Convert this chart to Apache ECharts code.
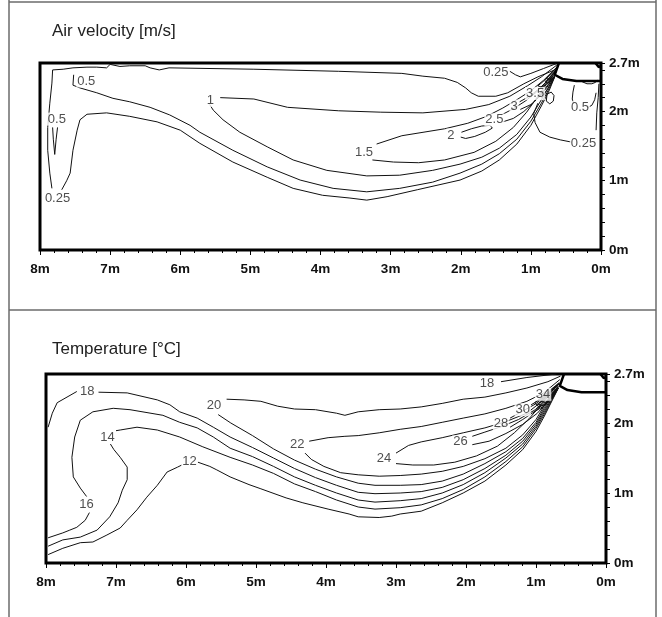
<!DOCTYPE html>
<html><head><meta charset="utf-8">
<script src="https://cdn.jsdelivr.net/npm/echarts@6/dist/echarts.min.js"></script>
<style>html,body{margin:0;padding:0;background:#fff;}#c{width:662px;height:617px;}</style>
</head><body><div id="c"></div>
<script>
// ---------- axis data ----------
const xTickMin = 0, xTickMax = 8;
const yMin = 0, yMax = 2.7;
const yLabelTicks = [0, 1, 2, 2.7];
const yAllTicks = [0, 0.2, 0.4, 0.6, 0.8, 1, 1.2, 1.4, 1.6, 1.8, 2, 2.2, 2.4, 2.6, 2.7];

// ---------- inlet geometry (m) ----------
const inletShape = [[0.6,2.7],[0.66,2.53],[0.55,2.47],[0.35,2.44],[0,2.44]];
const cornerMark = [[0.08,2.7],[0.03,2.64],[0.0,2.66]];

// ---------- air velocity contours [x m, y m] ----------
const vel025Upper = [[0.66,2.6],[0.9,2.5],[1.1,2.4],[1.33,2.27],[1.5,2.22],[1.75,2.22],[1.85,2.27],[1.93,2.34],[2.05,2.42],[2.23,2.48],[2.54,2.51],[2.84,2.55],[3.74,2.58],[4.95,2.61],[6.16,2.63],[6.3,2.6],[6.43,2.63],[6.5,2.66],[6.72,2.66],[6.86,2.65],[7.0,2.68],[7.05,2.63],[7.19,2.64],[7.33,2.64],[7.53,2.63],[7.67,2.61],[7.82,2.6],[7.83,2.41],[7.86,2.12],[7.89,1.77],[7.89,1.44],[7.86,1.11],[7.83,0.89]];
const vel025Lower = [[7.69,0.87],[7.62,1.0],[7.57,1.11],[7.53,1.44],[7.47,1.73],[7.43,1.88],[7.33,1.96],[7.05,1.98],[6.72,1.93],[6.33,1.85],[6.0,1.73],[5.72,1.54],[5.25,1.27],[4.76,1.05],[4.39,0.89],[3.97,0.79],[3.58,0.75],[3.34,0.72],[3.05,0.77],[2.62,0.87],[2.01,1.01],[1.7,1.14],[1.45,1.3],[1.2,1.53],[1.0,1.8],[0.85,2.08],[0.74,2.3],[0.66,2.5]];
const vel05Lower = [[7.52,2.53],[7.53,2.38],[7.43,2.34],[7.19,2.27],[6.96,2.19],[6.72,2.14],[6.43,2.06],[6.15,1.95],[5.86,1.8],[5.72,1.7],[5.25,1.44],[4.76,1.2],[4.29,1.01],[3.82,0.89],[3.34,0.84],[2.87,0.89],[2.4,0.98],[2.01,1.11],[1.7,1.24],[1.45,1.39],[1.2,1.6],[1.0,1.86],[0.85,2.12],[0.74,2.33],[0.66,2.5]];
const vel05Loop = [[7.82,1.77],[7.81,1.6],[7.79,1.38],[7.77,1.6],[7.75,1.77]];
const vel1Upper = [[5.43,2.2],[4.95,2.18],[4.47,2.06],[3.74,2.01],[3.14,1.99],[2.54,1.98],[1.93,2.03],[1.6,2.1],[1.3,2.22],[1.05,2.37],[0.85,2.5],[0.63,2.67]];
const vel1Lower = [[5.58,2.1],[5.53,2.02],[5.39,1.88],[5.15,1.7],[4.76,1.49],[4.39,1.3],[3.91,1.15],[3.34,1.07],[2.87,1.08],[2.4,1.15],[2.01,1.24],[1.7,1.34],[1.45,1.47],[1.2,1.67],[1.0,1.92],[0.85,2.17],[0.74,2.36],[0.66,2.51]];
const vel15Upper = [[3.2,1.53],[2.84,1.65],[2.23,1.75],[1.9,1.83],[1.63,1.93],[1.4,2.05],[1.2,2.17],[1.0,2.3],[0.82,2.45],[0.63,2.64]];
const vel15Lower = [[3.26,1.3],[2.96,1.27],[2.6,1.26],[2.23,1.3],[1.81,1.41],[1.5,1.57],[1.25,1.77],[1.06,1.99],[0.9,2.22],[0.78,2.39],[0.67,2.52]];
const vel2Loop = [[1.99,1.7],[1.85,1.75],[1.7,1.79],[1.58,1.8],[1.55,1.76],[1.65,1.7],[1.8,1.64],[1.93,1.61],[2.0,1.63]];
const vel25Upper = [[1.42,1.95],[1.25,2.04],[1.08,2.15],[0.92,2.28],[0.78,2.43],[0.64,2.6]];
const vel25Lower = [[1.4,1.85],[1.25,1.9],[1.1,2.0],[0.95,2.14],[0.82,2.3],[0.68,2.49]];
const vel3Upper = [[1.16,2.14],[1.02,2.22],[0.88,2.33],[0.76,2.45],[0.64,2.59]];
const vel3Lower = [[1.15,2.03],[1.0,2.1],[0.87,2.22],[0.77,2.35],[0.68,2.49]];
const vel35Upper = [[0.86,2.33],[0.75,2.44],[0.64,2.57]];
const vel35Lower = [[0.85,2.2],[0.76,2.33],[0.68,2.48]];
const vel4Loop = [[0.64,2.6],[0.74,2.51],[0.84,2.42],[0.9,2.37],[0.84,2.35],[0.76,2.41],[0.67,2.5]];
const vel45Loop = [[0.64,2.58],[0.72,2.5],[0.8,2.43],[0.76,2.41],[0.7,2.46],[0.66,2.51]];
const vel5Loop = [[0.64,2.62],[0.7,2.56],[0.78,2.48],[0.74,2.46],[0.68,2.52]];
const velIsland = [[0.78,2.15],[0.73,2.11],[0.68,2.15],[0.67,2.23],[0.71,2.28],[0.77,2.25],[0.78,2.15]];
const velRight025 = [[0.9,2.12],[0.96,1.97],[0.94,1.84],[0.87,1.7],[0.73,1.63],[0.58,1.59],[0.43,1.56]];
const velRight05a = [[0.38,2.38],[0.4,2.28],[0.41,2.18],[0.39,2.11]];
const velRight05b = [[0.2,2.05],[0.13,2.09],[0.09,2.17],[0.07,2.27]];
const velWall = [[0.03,2.4],[0.04,2.2],[0.06,1.98],[0.07,1.73]];
const velArc = [[0.27,2.43],[0.2,2.4],[0.13,2.4],[0.08,2.42],[0.05,2.45]];
const velTop025 = [[1.3,2.58],[1.22,2.53],[1.15,2.5],[1.0,2.55],[0.82,2.62],[0.64,2.69]];
const velLabels = [[7.34,2.44,'0.5'],[7.76,1.89,'0.5'],[7.75,0.74,'0.25'],[5.57,2.16,'1'],[3.38,1.41,'1.5'],[2.14,1.66,'2'],[1.52,1.88,'2.5'],[1.24,2.08,'3'],[0.94,2.26,'3.5'],[1.5,2.56,'0.25'],[0.3,2.06,'0.5'],[0.25,1.54,'0.25']];

// ---------- temperature contours [x m, y m] ----------
const t12Left = [[7.97,0.12],[7.76,0.21],[7.51,0.29],[7.33,0.3],[7.13,0.4],[6.94,0.5],[6.84,0.61],[6.7,0.76],[6.56,0.94],[6.41,1.11],[6.27,1.3],[6.12,1.37],[6.06,1.4]];
const t12Right = [[5.83,1.44],[5.66,1.38],[5.56,1.33],[5.37,1.23],[5.1,1.12],[4.93,1.06],[4.57,0.93],[4.33,0.86],[3.97,0.77],[3.67,0.7],[3.54,0.66],[3.24,0.65],[3.06,0.67],[2.94,0.7],[2.64,0.74],[2.34,0.86],[2.04,1.0],[1.73,1.17],[1.43,1.4],[1.19,1.62],[1.0,1.88],[0.88,2.1],[0.78,2.3],[0.68,2.5]];
const t14Left = [[7.97,0.24],[7.76,0.33],[7.51,0.37],[7.27,0.47],[7.09,0.66],[6.97,0.86],[6.91,1.04],[6.84,1.19],[6.84,1.37],[6.94,1.51],[7.03,1.62],[7.08,1.7]];
const t14Right = [[7.0,1.89],[6.94,1.9],[6.7,1.94],[6.41,1.9],[6.09,1.8],[5.76,1.66],[5.37,1.51],[5.05,1.4],[4.75,1.28],[4.45,1.13],[4.15,1.02],[3.85,0.9],[3.54,0.8],[3.3,0.77],[2.94,0.79],[2.64,0.83],[2.34,0.92],[2.04,1.05],[1.73,1.23],[1.43,1.45],[1.19,1.66],[1.0,1.92],[0.88,2.13],[0.78,2.32],[0.68,2.5]];
const t16Left = [[7.97,0.36],[7.76,0.43],[7.66,0.47],[7.56,0.51],[7.44,0.61],[7.38,0.72]];
const t16Right = [[7.42,0.95],[7.51,1.07],[7.61,1.23],[7.63,1.51],[7.59,1.8],[7.51,2.04],[7.33,2.16],[7.04,2.21],[6.8,2.19],[6.33,2.11],[6.09,2.01],[5.84,1.93],[5.61,1.8],[5.37,1.64],[5.05,1.52],[4.75,1.38],[4.45,1.23],[4.15,1.11],[3.85,1.0],[3.54,0.9],[3.3,0.87],[2.94,0.89],[2.64,0.92],[2.34,1.0],[2.04,1.12],[1.73,1.29],[1.43,1.5],[1.19,1.7],[1.0,1.95],[0.88,2.16],[0.78,2.34],[0.68,2.5]];
const t18Left = [[7.56,2.45],[7.7,2.37],[7.84,2.29],[7.91,2.14],[7.97,1.94]];
const t18Right = [[7.25,2.44],[6.84,2.43],[6.41,2.33],[6.23,2.26],[6.09,2.16],[5.84,2.07],[5.61,1.94],[5.37,1.8],[5.05,1.65],[4.75,1.5],[4.45,1.35],[4.15,1.22],[3.85,1.11],[3.54,1.01],[3.3,0.99],[2.94,1.0],[2.64,1.02],[2.34,1.08],[2.04,1.19],[1.73,1.35],[1.43,1.54],[1.19,1.74],[1.0,1.98],[0.88,2.19],[0.78,2.36],[0.68,2.5]];
const t18Top = [[1.5,2.59],[1.13,2.65],[0.71,2.7]];
const t20Upper = [[5.42,2.34],[5.17,2.33],[4.93,2.31],[4.69,2.24],[4.45,2.2],[4.15,2.19],[3.85,2.14],[3.73,2.11],[3.54,2.16],[3.24,2.19],[2.94,2.2],[2.64,2.23],[2.34,2.28],[2.04,2.34],[1.73,2.37],[1.43,2.43],[1.13,2.5],[0.83,2.59],[0.65,2.67]];
const t20Lower = [[5.54,2.12],[5.36,2.0],[5.05,1.82],[4.75,1.63],[4.45,1.47],[4.15,1.34],[3.85,1.23],[3.54,1.14],[3.3,1.11],[2.94,1.11],[2.64,1.12],[2.34,1.17],[2.04,1.27],[1.73,1.42],[1.43,1.59],[1.19,1.78],[1.0,2.01],[0.88,2.22],[0.78,2.38],[0.68,2.51]];
const t22Upper = [[4.24,1.74],[3.97,1.79],[3.73,1.81],[3.54,1.82],[3.24,1.86],[2.94,1.91],[2.64,1.95],[2.34,2.01],[2.04,2.07],[1.73,2.13],[1.43,2.21],[1.13,2.31],[0.89,2.43],[0.66,2.62]];
const t22Lower = [[4.3,1.57],[4.21,1.48],[4.03,1.38],[3.79,1.29],[3.54,1.26],[3.24,1.24],[2.94,1.25],[2.64,1.27],[2.34,1.31],[2.04,1.38],[1.73,1.49],[1.43,1.64],[1.19,1.83],[1.0,2.05],[0.88,2.25],[0.78,2.4],[0.68,2.52]];
const t24Upper = [[3.0,1.57],[2.82,1.68],[2.64,1.73],[2.34,1.79],[2.04,1.86],[1.73,1.93],[1.43,2.02],[1.13,2.14],[0.89,2.33],[0.67,2.58]];
const t24Lower = [[3.0,1.42],[2.76,1.4],[2.46,1.4],[2.16,1.44],[1.85,1.53],[1.55,1.67],[1.31,1.86],[1.1,2.06],[0.92,2.27],[0.78,2.42],[0.68,2.53]];
const t26Upper = [[1.91,1.81],[1.73,1.87],[1.49,1.95],[1.25,2.05],[1.01,2.19],[0.83,2.38],[0.67,2.57]];
const t26Lower = [[1.91,1.69],[1.67,1.74],[1.43,1.85],[1.19,1.98],[0.98,2.14],[0.83,2.31],[0.69,2.52]];
const t28Upper = [[1.37,2.07],[1.19,2.17],[1.01,2.27],[0.83,2.41],[0.67,2.57]];
const t28Lower = [[1.37,1.94],[1.19,2.05],[1.01,2.17],[0.86,2.3],[0.7,2.5]];
const t30Upper = [[1.07,2.26],[0.95,2.33],[0.79,2.45],[0.67,2.56]];
const t30Lower = [[1.04,2.15],[0.89,2.24],[0.78,2.36],[0.7,2.49]];
const t31Loop = [[0.67,2.57],[0.8,2.46],[0.94,2.35],[1.02,2.29],[0.96,2.23],[0.86,2.27],[0.76,2.37],[0.69,2.49]];
const t32Loop = [[0.67,2.56],[0.78,2.45],[0.9,2.33],[0.98,2.27],[0.9,2.25],[0.8,2.33],[0.7,2.49]];
const t33Loop = [[0.67,2.56],[0.76,2.48],[0.86,2.38],[0.93,2.31],[0.86,2.29],[0.78,2.37],[0.7,2.49]];
const t34Upper = [[0.8,2.47],[0.67,2.57]];
const t34Lower = [[0.8,2.38],[0.7,2.48]];
const t36Loop = [[0.67,2.56],[0.74,2.5],[0.72,2.46],[0.68,2.5]];
const tempLabels = [[7.41,2.45,'18'],[5.6,2.25,'20'],[4.41,1.69,'22'],[3.17,1.5,'24'],[2.08,1.73,'26'],[1.5,1.99,'28'],[1.19,2.19,'30'],[0.9,2.41,'34'],[1.7,2.56,'18'],[7.42,0.84,'16'],[7.12,1.8,'14'],[5.95,1.45,'12']];

const velLines = [vel025Upper, vel025Lower, vel05Lower, vel05Loop, vel1Upper, vel1Lower, vel15Upper, vel15Lower, vel2Loop, vel25Upper, vel25Lower, vel3Upper, vel3Lower, vel35Upper, vel35Lower, vel4Loop, vel45Loop, vel5Loop, velIsland, velRight025, velRight05a, velRight05b, velWall, velArc, velTop025];
const tempLines = [t12Left, t12Right, t14Left, t14Right, t16Left, t16Right, t18Left, t18Right, t18Top, t20Upper, t20Lower, t22Upper, t22Lower, t24Upper, t24Lower, t26Upper, t26Lower, t28Upper, t28Lower, t30Upper, t30Lower, t31Loop, t32Loop, t33Loop, t34Upper, t34Lower, t36Loop];

// ---------- build ----------
const FONT = '"Liberation Sans", Arial, Helvetica, sans-serif';
const chart = echarts.init(document.getElementById('c'));

function xAxisFor(gi) {
  return {
    gridIndex: gi, type: 'value', min: xTickMin, max: xTickMax, interval: 1, inverse: true, position: 'bottom',
    axisLine: { show: false },
    axisTick: { show: true, inside: false, length: 5, lineStyle: { color: '#000', width: 1 } },
    minorTick: { show: true, splitNumber: 5, length: 3, lineStyle: { color: '#000', width: 1 } },
    splitLine: { show: false }, minorSplitLine: { show: false },
    axisLabel: { formatter: v => v + 'm', margin: 12, fontSize: 13.5, fontWeight: 'bold', color: '#111', fontFamily: FONT }
  };
}
function yAxisFor(gi) {
  return {
    gridIndex: gi, type: 'value', min: yMin, max: yMax, position: 'right',
    axisLine: { show: false }, splitLine: { show: false },
    axisTick: { show: true, customValues: yAllTicks, length: 4, lineStyle: { color: '#000', width: 1 } },
    axisLabel: { customValues: yLabelTicks, formatter: v => v + 'm', margin: 8, fontSize: 13.5, fontWeight: 'bold', color: '#111', fontFamily: FONT }
  };
}
function contour(data, gi) {
  return { type: 'line', xAxisIndex: gi, yAxisIndex: gi, data: data, showSymbol: false, symbol: 'none',
    silent: true, animation: false, z: 3, lineStyle: { color: '#111', width: 1 } };
}
function outline(data, gi) {
  return { type: 'line', xAxisIndex: gi, yAxisIndex: gi, data: data, symbol: 'none', silent: true,
    animation: false, z: 5, lineStyle: { color: '#000', width: 2.5 } };
}
function labels(data, gi) {
  return { type: 'scatter', xAxisIndex: gi, yAxisIndex: gi, data: data, symbolSize: 1, silent: true,
    animation: false, z: 6, itemStyle: { color: 'rgba(0,0,0,0)' },
    label: { show: true, position: 'inside', formatter: p => p.value[2], fontSize: 13, color: '#222',
      fontFamily: FONT, backgroundColor: '#fff', padding: [0, 1] } };
}

const series = [];
velLines.forEach(d => series.push(contour(d, 0)));
tempLines.forEach(d => series.push(contour(d, 1)));
series.push(outline(inletShape, 0), outline(cornerMark, 0), outline(inletShape, 1), outline(cornerMark, 1));
series.push(labels(velLabels, 0), labels(tempLabels, 1));

const frame = { stroke: '#6b6b6b', lineWidth: 1.5 };
chart.setOption({
  animation: false,
  backgroundColor: '#fff',
  grid: [
    { left: 40, top: 63, width: 561, height: 187, show: true, borderColor: '#000', borderWidth: 3, backgroundColor: 'transparent' },
    { left: 46, top: 374, width: 560, height: 189, show: true, borderColor: '#000', borderWidth: 3, backgroundColor: 'transparent' }
  ],
  xAxis: [xAxisFor(0), xAxisFor(1)],
  yAxis: [yAxisFor(0), yAxisFor(1)],
  series: series,
  graphic: [
    { type: 'line', shape: { x1: 9, y1: 0, x2: 9, y2: 617 }, style: frame, silent: true },
    { type: 'line', shape: { x1: 656, y1: 0, x2: 656, y2: 617 }, style: frame, silent: true },
    { type: 'line', shape: { x1: 9, y1: 2, x2: 656, y2: 2 }, style: frame, silent: true },
    { type: 'line', shape: { x1: 9, y1: 310, x2: 656, y2: 310 }, style: frame, silent: true },
    { type: 'text', left: 52, top: 23, style: { text: 'Air velocity [m/s]', font: '17px ' + FONT, fill: '#222' }, silent: true },
    { type: 'text', left: 52, top: 341, style: { text: 'Temperature [°C]', font: '17px ' + FONT, fill: '#222' }, silent: true }
  ]
});
</script></body></html>
